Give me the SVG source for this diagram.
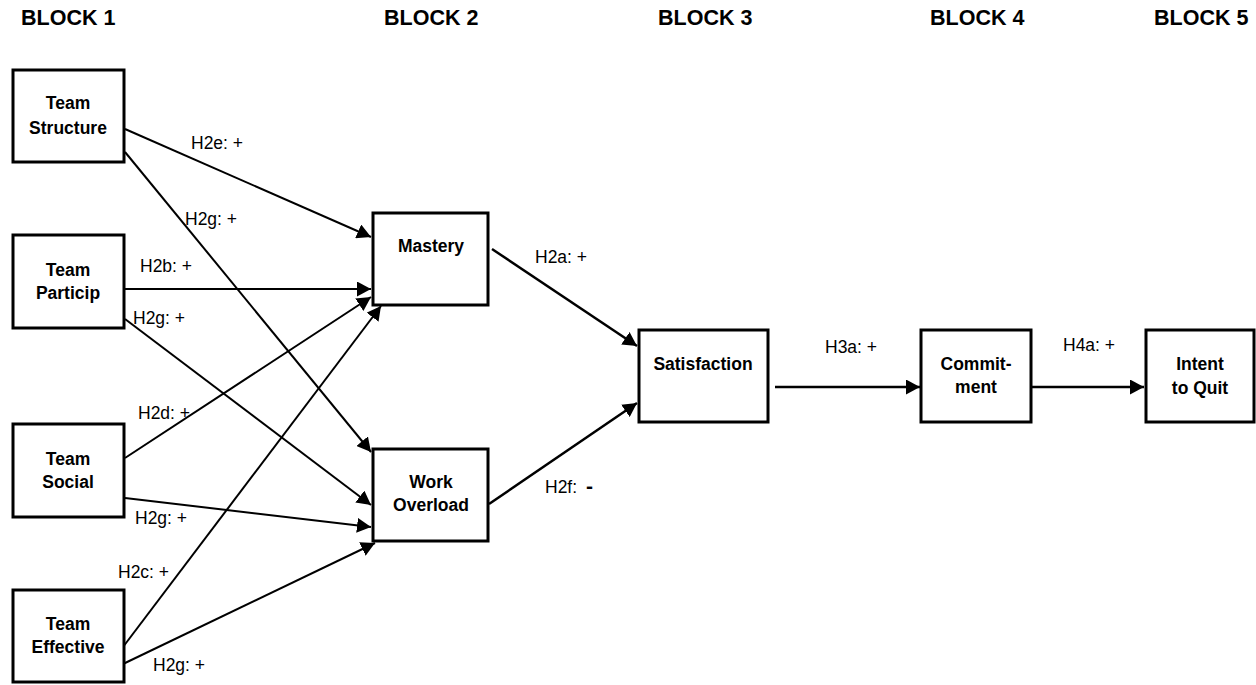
<svg xmlns="http://www.w3.org/2000/svg" width="1256" height="685" viewBox="0 0 1256 685">
<style>
.box{fill:#fff;stroke:#000;stroke-width:3}
.nt{font-family:"Liberation Sans",Arial,sans-serif;font-weight:bold;font-size:17.5px;text-anchor:middle;fill:#000}
.hd{font-family:"Liberation Sans",Arial,sans-serif;font-weight:bold;font-size:21.5px;fill:#000}
.lb{font-family:"Liberation Sans",Arial,sans-serif;font-size:17.5px;fill:#000}
.ln{stroke:#000;stroke-width:2;fill:none;marker-end:url(#ah)}
.thick{stroke-width:2.5}
</style>
<defs>
<marker id="ah" markerUnits="userSpaceOnUse" markerWidth="15" markerHeight="15" refX="14" refY="7.5" orient="auto">
<path d="M0,0 L14,7.5 L0,15 z" fill="#000"/>
</marker>
</defs>
<rect width="1256" height="685" fill="#fff"/>
<g id="headers">
<text class="hd" x="21" y="25">BLOCK 1</text>
<text class="hd" x="384" y="25">BLOCK 2</text>
<text class="hd" x="658" y="25">BLOCK 3</text>
<text class="hd" x="930" y="25">BLOCK 4</text>
<text class="hd" x="1154" y="25">BLOCK 5</text>
</g>
<g id="connectors">
<line class="ln" x1="125" y1="129" x2="371" y2="237"/>
<line class="ln" x1="125" y1="152" x2="371" y2="452"/>
<line class="ln" x1="123" y1="289" x2="371" y2="289"/>
<line class="ln" x1="125" y1="319" x2="371" y2="505"/>
<line class="ln" x1="125" y1="458" x2="371" y2="297"/>
<line class="ln" x1="125" y1="498" x2="371" y2="527"/>
<line class="ln" x1="123" y1="647" x2="381" y2="306"/>
<line class="ln" x1="123" y1="664" x2="375" y2="543"/>
<line class="ln thick" x1="492" y1="249" x2="637" y2="346"/>
<line class="ln thick" x1="489" y1="504" x2="637" y2="403"/>
<line class="ln thick" x1="775" y1="387" x2="920" y2="387"/>
<line class="ln thick" x1="1032" y1="387" x2="1144" y2="387"/>
</g>
<g id="labels">
<text class="lb" x="191" y="149">H2e: +</text>
<text class="lb" x="185" y="225">H2g: +</text>
<text class="lb" x="140" y="272">H2b: +</text>
<text class="lb" x="133" y="324">H2g: +</text>
<text class="lb" x="138" y="419">H2d: +</text>
<text class="lb" x="135" y="524">H2g: +</text>
<text class="lb" x="118" y="578">H2c: +</text>
<text class="lb" x="153" y="671">H2g: +</text>
<text class="lb" x="535" y="263">H2a: +</text>
<text class="lb" x="545" y="493">H2f: <tspan x="586" font-size="21" font-weight="bold">-</tspan></text>
<text class="lb" x="825" y="353">H3a: +</text>
<text class="lb" x="1063" y="351">H4a: +</text>
</g>
<g id="team-structure">
<rect class="box" x="13" y="70" width="111" height="92"/>
<text class="nt" x="68" y="109">Team</text>
<text class="nt" x="68" y="134">Structure</text>
</g>
<g id="team-particip">
<rect class="box" x="13" y="235" width="111" height="93"/>
<text class="nt" x="68" y="276">Team</text>
<text class="nt" x="68" y="299">Particip</text>
</g>
<g id="team-social">
<rect class="box" x="13" y="424" width="111" height="93"/>
<text class="nt" x="68" y="465">Team</text>
<text class="nt" x="68" y="488">Social</text>
</g>
<g id="team-effective">
<rect class="box" x="13" y="590" width="111" height="92"/>
<text class="nt" x="68" y="630">Team</text>
<text class="nt" x="68" y="653">Effective</text>
</g>
<g id="mastery">
<rect class="box" x="373" y="213" width="115" height="92"/>
<text class="nt" x="431" y="252">Mastery</text>
</g>
<g id="work-overload">
<rect class="box" x="373" y="449" width="115" height="92"/>
<text class="nt" x="431" y="488">Work</text>
<text class="nt" x="431" y="511">Overload</text>
</g>
<g id="satisfaction">
<rect class="box" x="639" y="330" width="129" height="92"/>
<text class="nt" x="703" y="370">Satisfaction</text>
</g>
<g id="commitment">
<rect class="box" x="921" y="330" width="110" height="92"/>
<text class="nt" x="976" y="370">Commit-</text>
<text class="nt" x="976" y="393">ment</text>
</g>
<g id="intent-to-quit">
<rect class="box" x="1146" y="330" width="108" height="92"/>
<text class="nt" x="1200" y="370">Intent</text>
<text class="nt" x="1200" y="394">to Quit</text>
</g>
</svg>
